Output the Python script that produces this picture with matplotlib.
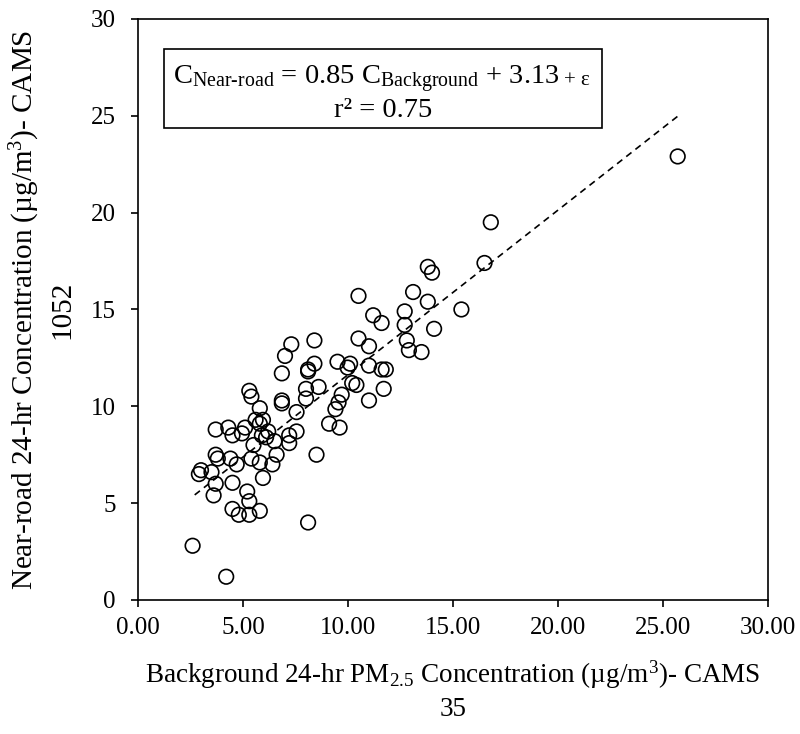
import matplotlib.pyplot as plt
from matplotlib.patches import Rectangle

plt.rcParams['font.family'] = ['Liberation Serif', 'DejaVu Serif']
plt.rcParams['mathtext.fontset'] = 'custom'
plt.rcParams['mathtext.rm'] = 'Liberation Serif'
plt.rcParams['mathtext.it'] = 'Liberation Serif:italic'

# background (x) vs near-road (y) 24-hr PM2.5
background = [25.7, 16.8, 16.5, 13.8, 14.0, 13.1, 13.8, 15.4, 12.7, 12.7, 14.1,
              10.5, 11.2, 11.6, 10.5, 11.0, 12.8, 12.9, 13.5, 9.5, 10.1, 9.98,
              11.0, 11.6, 11.8, 10.2, 10.4, 9.7, 9.55, 9.4, 9.1, 9.6, 11.0, 11.7,
              8.4, 7.3, 7.0, 6.85, 8.4, 8.1, 8.1, 8.6, 8.0, 5.3, 5.4, 8.0, 6.85,
              6.85, 5.8, 7.55, 5.6, 5.95, 5.8, 3.7, 4.3, 4.5, 5.1, 4.95, 6.2, 7.55,
              5.9, 6.1, 6.5, 7.2, 7.2, 5.5, 6.6, 8.5, 3.7, 3.8, 4.4, 4.7, 5.4, 5.8,
              6.4, 3.0, 3.5, 2.9, 5.95, 4.5, 3.7, 3.6, 5.2, 5.3, 4.5, 4.8, 5.3, 5.8,
              8.1, 2.6, 4.2]
near_road = [22.9, 19.5, 17.4, 17.2, 16.9, 15.9, 15.4, 15.0, 14.9, 14.2, 14.0,
             15.7, 14.7, 14.3, 13.5, 13.1, 13.4, 12.9, 12.8, 12.3, 12.2, 12.0,
             12.1, 11.9, 11.9, 11.2, 11.1, 10.6, 10.2, 9.85, 9.1, 8.9, 10.3, 10.9,
             13.4, 13.2, 12.6, 11.7, 12.2, 11.9, 11.8, 11.0, 10.9, 10.8, 10.5, 10.4, 10.3,
             10.15, 9.9, 9.7, 9.3, 9.3, 9.1, 8.8, 8.9, 8.5, 8.9, 8.6, 8.7, 8.7,
             8.5, 8.4, 8.2, 8.5, 8.1, 8.0, 7.5, 7.5, 7.5, 7.3, 7.3, 7.0, 7.3, 7.1,
             7.0, 6.7, 6.6, 6.5, 6.3, 6.05, 6.0, 5.4, 5.6, 5.1, 4.7, 4.4, 4.4, 4.6,
             4.0, 2.8, 1.2]

# regression line from the annotation
fit_slope = 0.85
fit_intercept = 3.13
fit_x_range = [2.7, 25.8]

ticks = [0, 5, 10, 15, 20, 25, 30]

fig = plt.figure(figsize=(8, 7.34), dpi=100)
ax = fig.add_axes([0.1725, 0.1826, 0.7875, 0.7916])

ax.scatter(background, near_road, s=110, facecolors='none', edgecolors='black', linewidths=1.2, zorder=3)

fit_y = [fit_slope * x + fit_intercept for x in fit_x_range]
ax.plot(fit_x_range, fit_y, color='black', linestyle=(0, (4, 3)), linewidth=1.2, zorder=2)

ax.set_xlim(0, 30)
ax.set_ylim(0, 30)
ax.set_xticks(ticks)
ax.set_xticklabels([f'{t:.2f}' for t in ticks])
ax.set_yticks(ticks)
ax.tick_params(direction='out', length=5, width=1.2, labelsize=18)
ax.tick_params(axis='x', pad=7)
ax.tick_params(axis='y', pad=11)
for sp in ax.spines.values():
    sp.set_linewidth(1.2)

ax.set_xlabel('Background 24-hr PM$_{2.5}$ Concentration (µg/m$^{3}$)- CAMS\n35',
              fontsize=19.5, labelpad=14, linespacing=1.35)
ax.set_ylabel('Near-road 24-hr Concentration (µg/m$^{3}$)- CAMS\n1052',
              fontsize=21, labelpad=11, linespacing=1.35)

# equation box
ax.add_patch(Rectangle((0.041, 0.812), 0.695, 0.136, transform=ax.transAxes,
                       facecolor='white', edgecolor='black', linewidth=1.2, zorder=4))
eq = ax.text(0.056, 0.897, r'C$_{\mathrm{Near\text{-}road}}$ = 0.85 C$_{\mathrm{Background}}$ + 3.13',
             transform=ax.transAxes, ha='left', va='center', fontsize=20.5, zorder=5)
ax.annotate('+ ε', xy=(1, 0.5), xycoords=eq, xytext=(3, -1), textcoords='offset points',
            ha='left', va='center', fontsize=15, zorder=5)
ax.text(0.389, 0.843, 'r² = 0.75', transform=ax.transAxes,
        ha='center', va='center', fontsize=20.5, zorder=5)

fig.savefig('out.png', dpi=100)
